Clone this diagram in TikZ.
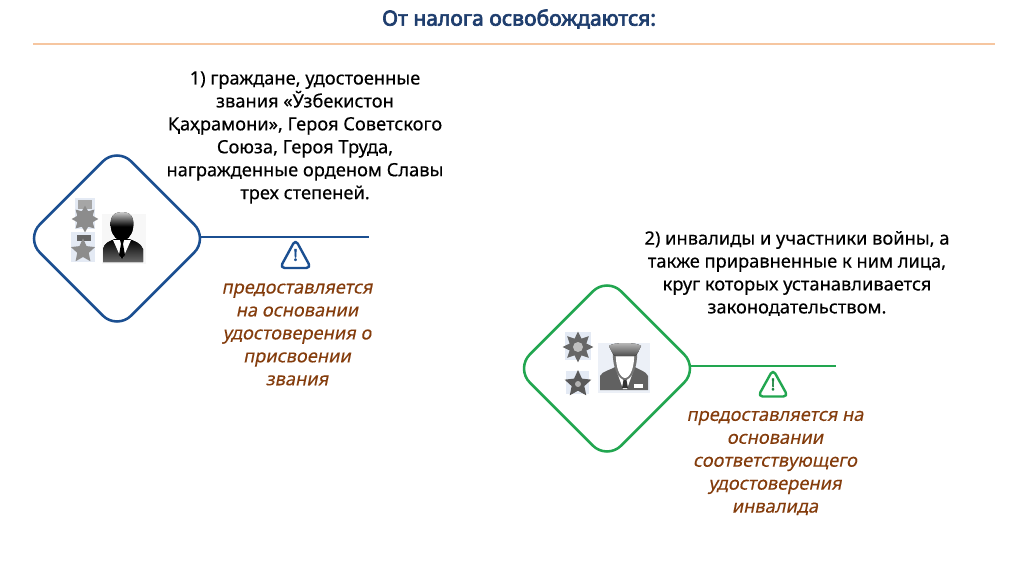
\documentclass[tikz,border=0pt]{standalone}
\usepackage{fontspec}
\setmainfont{Noto Sans}
\newfontfamily\bodyfont[FakeBold=0.3]{Noto Sans}
\newfontfamily\slantfont[FakeSlant=0.2,FakeBold=0.2]{Noto Sans}
\newfontfamily\heavyfont[FakeBold=3.2]{Noto Sans}
\usetikzlibrary{shapes.geometric}
\definecolor{titleblue}{HTML}{1F3E6E}
\definecolor{ruleorange}{HTML}{F6C6A0}
\definecolor{heroblue}{HTML}{1B4F91}
\definecolor{vetgreen}{HTML}{22A650}
\definecolor{notebrown}{HTML}{843C0C}
\definecolor{medalback}{HTML}{E4EAF4}
\begin{document}
\begin{tikzpicture}[x=0.75pt,y=-0.75pt,
  bodytext/.style={align=center,inner sep=0pt,text=black,font=\bodyfont\fontsize{13.7}{17.2}\selectfont},
  notetext/.style={align=center,inner sep=0pt,text=notebrown,font=\slantfont\fontsize{13.7}{17.2}\selectfont},
  rhomb/.style={draw,rotate=45,minimum size=96.8pt,inner sep=0pt,rounded corners=15pt,line width=1.9pt},
  stem/.style={line width=1.9pt,shorten <=-7.5pt},
  warnsign/.style={line width=1.8pt,rounded corners=3.5pt,line join=round},
  warnmark/.style={inner sep=0pt,font=\heavyfont\fontsize{12}{12}\selectfont},
  medal/.style={star,star point ratio=#1,inner sep=0pt,fill=black!45}]
\useasboundingbox (0,0) rectangle (1024,574);
\fill[white] (0,0) rectangle (1024,574);
% header
\node (title) [inner sep=0pt,text=titleblue,font=\heavyfont\fontsize{15.8}{18}\selectfont] at (519,19) {От налога освобождаются:};
\draw[ruleorange,line width=0.9pt] (33,44) -- (995,44);
% first group
\node (herobox) [rhomb,heroblue] at (117,238.5) {};
\coordinate (heroend) at (369,237);
\draw[stem,heroblue] (herobox.south east |- heroend) -- (heroend);
\node (herotext) [bodytext] at (305,137.5) {1) граждане, удостоенные\\звания «Ўзбекистон\\Қаҳрамони», Героя Советского\\Союза, Героя Труда,\\награжденные орденом Славы\\трех степеней.};
\draw[warnsign,heroblue] (295.5,239.5) -- (311,268) -- (280,268) -- cycle;
\node (herowarn) [warnmark,text=heroblue] at (295.5,255) {!};
\node (heronote) [notetext] at (297,334.5) {предоставляется\\на основании\\удостоверения о\\присвоении\\звания};
% medals, man in a suit
\fill[medalback] (75,198) rectangle (95,229);
\fill[medalback] (71,232) rectangle (95,262);
\fill[black!35] (78,200) rectangle (92,209);
\fill[black!60] (77,235) rectangle (91,241);
\node (heromedala) [medal=1.6,star points=8,minimum size=20pt] at (85,219) {};
\node (heromedalb) [medal=2.1,star points=5,minimum size=19pt] at (83,251) {};
\fill[black!3] (102,214) rectangle (146,264);
\fill[top color=black!20,bottom color=black,middle color=black] (122,212) .. controls (110,212) and (110,222) .. (111,228) .. controls (112,236) and (118,241) .. (122,241) .. controls (126,241) and (132,236) .. (133,228) .. controls (134,222) and (134,212) .. (122,212) -- cycle;
\fill[top color=black,bottom color=black!60] (103,262) -- (103,249) .. controls (104,243) and (110,241) .. (115,239) -- (129,239) .. controls (134,241) and (141,243) .. (143,249) -- (143,262) -- cycle;
\fill[white] (113,240) -- (131,240) -- (123,258) -- (121,258) -- cycle;
\fill[black] (120,240) -- (124,240) -- (123,244) -- (125,255) -- (122,259) -- (119,255) -- (121,244) -- cycle;
% second group
\node (vetbox) [rhomb,vetgreen] at (607,368.5) {};
\coordinate (vetend) at (836,366);
\draw[stem,vetgreen] (vetbox.south east |- vetend) -- (vetend);
\node (vettext) [bodytext] at (797,273.5) {2) инвалиды и участники войны, а\\также приравненные к ним лица,\\круг которых устанавливается\\законодательством.};
\draw[warnsign,vetgreen] (773,369.5) -- (788,396.5) -- (758,396.5) -- cycle;
\node (vetwarn) [warnmark,text=vetgreen!80!black] at (773,384.5) {!};
\node (vetnote) [notetext] at (775,463) {предоставляется на\\основании\\соответствующего\\удостоверения\\инвалида};
% medals, officer
\fill[medalback] (565,332) rectangle (591,360);
\fill[medalback] (566,371) rectangle (589,394);
\node (vetmedala) [medal=1.7,star points=8,minimum size=23pt,fill=black!60] at (578,347) {};
\node (vetmedalb) [medal=2.1,star points=5,minimum size=21pt,fill=black!65] at (578,384) {};
\fill[black!25] (578,347) circle (5);
\fill[black!30] (578,384) circle (3);
\fill[medalback!70] (598,343) rectangle (650,393);
\fill[black!62] (600,390) -- (600,376) .. controls (602,371) and (611,370) .. (617,366) -- (633,366) .. controls (639,370) and (646,371) .. (648,376) -- (648,390) -- cycle;
\fill[white] (617,372) -- (633,372) -- (627,389) -- (623,389) -- cycle;
\fill[black!80] (622,377) -- (628,377) -- (626.5,380) -- (628,388) -- (622,388) -- (623.5,380) -- cycle;
\fill[black!55] (613,352) .. controls (612,368) and (619,380) .. (625,380) .. controls (631,380) and (638,368) .. (637,352) -- cycle;
\fill[white] (616,352) .. controls (615,367) and (620,378) .. (625,378) .. controls (630,378) and (635,367) .. (634,352) -- cycle;
\fill[white] (634,384) rectangle (643,388);
\fill[top color=black!25,bottom color=black!70] (609,346) .. controls (612,342) and (638,342) .. (641,346) .. controls (639,350) and (637,356) .. (634,356) -- (616,356) .. controls (613,356) and (611,350) .. (609,346) -- cycle;
\end{tikzpicture}
\end{document}
